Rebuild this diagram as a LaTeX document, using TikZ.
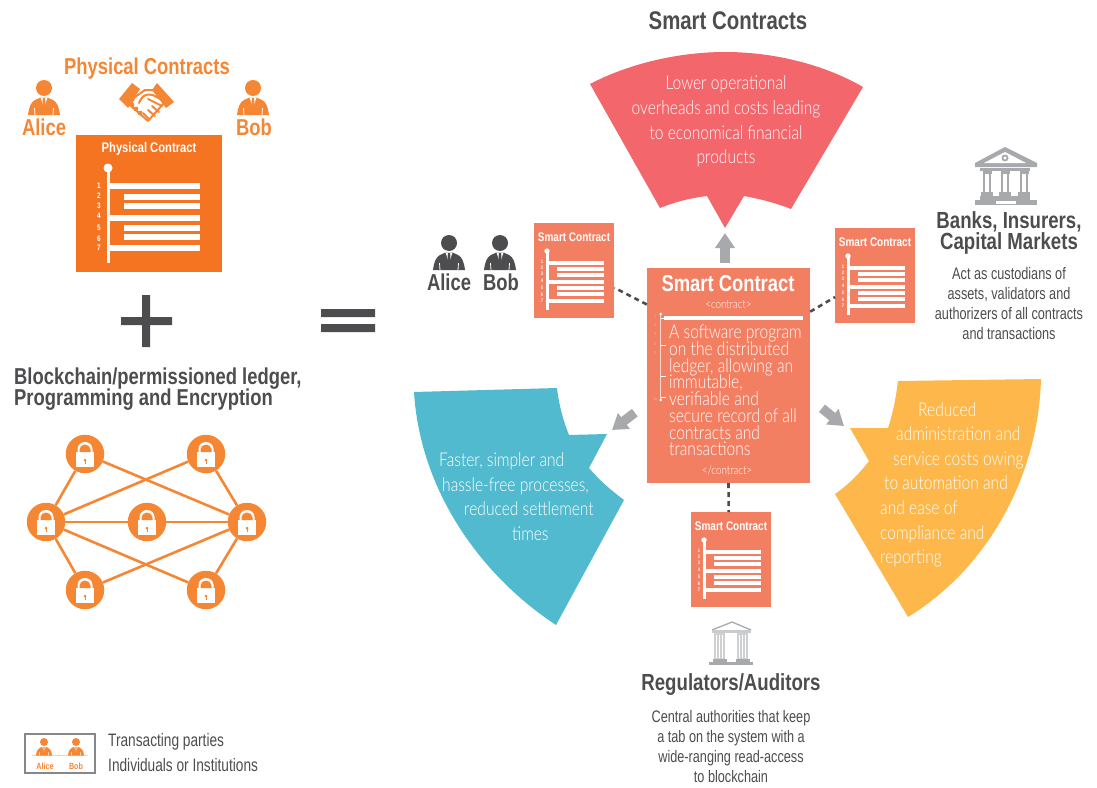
\documentclass[tikz,border=0pt]{standalone}
\usepackage{fontspec}
\usetikzlibrary{arrows.meta}
\setmainfont{Liberation Sans}
\newfontfamily\hvb[FakeStretch=0.8]{Liberation Sans Bold}
\newfontfamily\hvl[FakeStretch=0.82]{Lato Light}
\newfontfamily\hvr[FakeStretch=0.76]{Liberation Sans}
\definecolor{orgA}{HTML}{F47421}
\definecolor{orgB}{HTML}{F58634}
\definecolor{salm}{HTML}{F37F62}
\definecolor{redS}{HTML}{F2666C}
\definecolor{teal}{HTML}{52BACE}
\definecolor{yelw}{HTML}{FDB74A}
\definecolor{dark}{HTML}{4D4D4F}
\definecolor{gryA}{HTML}{A7A9AC}
\newcommand{\fsz}[1]{\fontsize{#1}{#1}\selectfont}
\newcommand{\fszb}[2]{\fontsize{#1}{#2}\selectfont}
\newcommand{\tightbody}{\hvl\fszb{19}{16.7}\setlength{\lineskiplimit}{-20pt}\relax}
\tikzset{
  docbox/.style={fill=salm,minimum width=80pt,minimum height=95pt,inner sep=0pt,anchor=north west},
  dashc/.style={draw=dark,line width=2.6pt,dash pattern=on 5pt off 4pt},
  blockarr/.style={draw=gryA,line width=9.5pt,-{Triangle[length=15pt,width=19pt]}},
  netline/.style={draw=orgB,line width=2.6pt},
  lockc/.style={circle,fill=orgB,minimum size=38.5pt,inner sep=0pt},
  band/.style={font=\hvl\fszb{19}{24.6},text=white,inner sep=0pt,align=left},
  headb/.style={font=\hvb\fsz{23.3},inner sep=0pt},
  desc/.style={font=\hvr\fszb{16.7}{20},text=dark,inner sep=0pt,align=center},
  doctitle/.style={font=\hvb\fsz{12.5},text=white,inner sep=0pt},
  lockp/.pic={
    \fill[white] (-9,-2) rectangle (9,13);
    \fill[white] (-7.5,-2) -- (-7.5,-5) arc[start angle=180,end angle=360,x radius=7.5,y radius=7] -- (7.5,-2) -- cycle;
    \fill[orgB] (-5.5,-2) -- (-5.5,-4.5) arc[start angle=180,end angle=360,x radius=5.5,y radius=5] -- (5.5,-2) -- cycle;
    \fill[orgB] (0,6) circle (1.5);
    \draw[orgB,line width=.8pt] (0,6) -- (0,10);
  }
}
% person: x, y of head centre, scale, colour
\newcommand{\personicon}[4]{%
  \begin{scope}[shift={(#1,#2)},scale=#3]
    \fill[#4] (0,0) circle (8);
    \fill[#4] (-16,27) .. controls (-15,19) and (-13,14) .. (-9,12) -- (-3.5,9.5) -- (3.5,9.5) -- (9,12) .. controls (13,14) and (15,19) .. (16,27) -- cycle;
    \fill[white] (-3.5,9.5) -- (3.5,9.5) -- (0,20) -- cycle;
    \fill[#4] (-1.2,10) -- (1.2,10) -- (1.4,18) -- (0,21) -- (-1.4,18) -- cycle;
    \draw[white,line width=#3*.8pt] (-9.5,20) -- (-9,27) (9.5,20) -- (9,27);
  \end{scope}}
% lines of a small contract: node name
\newcommand{\doclines}[3]{%
  \begin{scope}[shift={(#1,#2)}]
    \node[doctitle] at (40,14) {#3};
    \fill[white] (13,28) circle (2.7);
    \fill[white] (11.5,28) rectangle (14.5,87);
    \foreach \yy in {40,59,78} \fill[white] (13,\yy-2) rectangle (70,\yy+2);
    \foreach \yy in {46,52,65,71} \fill[white] (23,\yy-2) rectangle (70,\yy+2);
    \foreach \nn/\yy in {1/39,2/45,3/51,4/58,5/65,6/72,7/78}
      \node[font=\hvb\fsz{5},text=white,inner sep=0pt] at (8,\yy) {\nn};
  \end{scope}}
\begin{document}
\begin{tikzpicture}[x=1pt,y=-1pt]
\useasboundingbox (0,0) rectangle (1097,787);

% ---------- left panel
\node[font=\hvb\fsz{23},text=orgB,inner sep=0pt] (phtitle) at (147,69) {Physical Contracts};
\personicon{44}{88}{1}{orgB}
\personicon{253}{88}{1}{orgB}
\node[font=\hvb\fsz{23},text=orgB,inner sep=0pt] (lalice) at (44,127) {Alice};
\node[font=\hvb\fsz{23},text=orgB,inner sep=0pt] (lbob) at (254,127) {Bob};
% handshake
\filldraw[fill=white,draw=orgB,line width=2pt,line join=round] (135,97) -- (145,90) -- (155,90) -- (164,103) -- (148,121) -- (130,105) -- cycle;
\fill[orgB] (119,99) -- (132,83) -- (140,89) -- (128,108) -- cycle;
\fill[orgB] (157,83) -- (174,102) -- (166,108) -- (152,90) -- cycle;
\draw[orgB,line width=2pt,line cap=round,line join=round] (139,103) .. controls (143,93) and (150,92) .. (160,99) (148,99) -- (162,106) (152,106) -- (159,112) (148,110) -- (155,116) (143,113) -- (149,119);
\fill[orgB] (132,105) circle (2.4) (136,109) circle (2.4) (140,113) circle (2.4);
% physical contract
\node[fill=orgA,minimum width=146pt,minimum height=137pt,inner sep=0pt] (phys) at (149,203.5) {};
\node[font=\hvb\fsz{14},text=white,inner sep=0pt] (physt) at (149,149) {Physical Contract};
\fill[white] (108,168) circle (4.5);
\fill[white] (106.5,168) rectangle (109.5,263);
\foreach \yy in {186,218,248} \fill[white] (108,\yy-3) rectangle (200,\yy+3);
\foreach \yy in {197,206,228,237} \fill[white] (124,\yy-3) rectangle (200,\yy+3);
\foreach \nn/\yy in {1/186,2/196,3/206,4/216,5/228,6/239,7/248}
  \node[font=\hvb\fsz{8},text=white,inner sep=0pt] at (99,\yy) {\nn};
% plus, equals
\fill[dark] (121,317) rectangle (172,325) (142,295) rectangle (150,347);
\fill[dark] (321,309) rectangle (375,317) (321,324) rectangle (375,332);
\node[font=\hvb\fsz{23},text=dark,inner sep=0pt,anchor=west] (bc1) at (14,379) {Blockchain/permissioned ledger,};
\node[font=\hvb\fsz{23},text=dark,inner sep=0pt,anchor=west] (bc2) at (14,400) {Programming and Encryption};
% network
\node[lockc] (tl) at (85,454) {};
\node[lockc] (tr) at (206,454) {};
\node[lockc] (ml) at (46,522) {};
\node[lockc] (mc) at (147,522) {};
\node[lockc] (mr) at (247,522) {};
\node[lockc] (bl) at (85,590) {};
\node[lockc] (br) at (206,590) {};
\foreach \a/\b in {tl/ml,tr/mr,ml/bl,mr/br,ml/mc,mc/mr,ml/tr,tl/mr,ml/br,bl/mr}
  \draw[netline] (\a) -- (\b);
\foreach \n in {tl,tr,ml,mc,mr,bl,br} \pic at (\n) {lockp};
% legend
\node[draw=gryA!80!black,line width=1.1pt,minimum width=70pt,minimum height=39pt,inner sep=0pt] (legend) at (60,753.5) {};
\draw[orgB!40,line width=.5pt] (32,755) -- (88,755);
\personicon{44}{742}{.5}{orgB}
\personicon{76}{742}{.5}{orgB}
\node[font=\hvb\fsz{9},text=orgB,inner sep=0pt] (lga) at (45,766) {Alice};
\node[font=\hvb\fsz{9},text=orgB,inner sep=0pt] (lgb) at (76,766) {Bob};
\node[font=\hvr\fsz{18},text=dark,inner sep=0pt,anchor=west] (lg1) at (108,742) {Transacting parties};
\node[font=\hvr\fsz{18},text=dark,inner sep=0pt,anchor=west] (lg2) at (108,765) {Individuals or Institutions};

% ---------- right panel
\node[font=\hvb\fsz{25.5},text=dark,inner sep=0pt] (sctitle) at (728,21) {Smart Contracts};
\fill[redS] (590,84) .. controls (630,63) and (680,52) .. (725,52) .. controls (775,52) and (825,65) .. (863,87) -- (791,209) .. controls (776,203) and (760,199) .. (744,196) -- (725,228) -- (707,196) .. controls (690,198) and (675,202) .. (660,208) -- cycle;
\coordinate (redtip) at (725,228);
\node[band,align=center] (redt) at (726,121.5) {Lower operational\\overheads and costs leading\\to economical financial\\products};
\fill[teal] (414,392) -- (557,388) .. controls (559,405) and (563,420) .. (569,435) -- (607,434) -- (589,468) .. controls (600,481) and (612,491) .. (624,500) -- (556,625) .. controls (480,575) and (420,490) .. (414,392) -- cycle;
\coordinate (tealtip) at (612,430);
\node[band,anchor=north west] (tealt) at (439,452.5) {Faster, simpler and\\\hspace*{3pt}hassle-free processes,\\\hspace*{25pt}reduced settlement\\\hspace*{73pt}times};
\fill[yelw] (898,381) -- (1041,379) .. controls (1038,480) and (985,570) .. (908,617) -- (835,494) .. controls (848,485) and (860,473) .. (869,461) -- (850,428) -- (888,428) .. controls (893,413) and (896,397) .. (898,381) -- cycle;
\coordinate (yelwtip) at (844,426);
\node[band,anchor=north west] (yelwt) at (880,402) {\hspace*{38pt}Reduced\\\hspace*{16pt}administration and\\\hspace*{13pt}service costs owing\\\hspace*{4pt}to automation and\\and ease of\\compliance and\\reporting};
% main contract
\node[fill=salm,minimum width=163pt,minimum height=215pt,inner sep=0pt] (main) at (728.5,375.5) {};
\node[font=\hvb\fsz{23},text=white,inner sep=0pt] (maint) at (728,284) {Smart Contract};
\node[font=\hvl\fsz{12},text=white,inner sep=0pt] (cto) at (728.5,305) {<contract>};
\fill[white] (664,316.2) rectangle (803,319.8);
\draw[white!70!salm,line width=.7pt] (660.7,314) -- (660.7,400);
\fill[white] (660.7,314) circle (1.3) (660.7,400) circle (1.3);
\draw[white,line width=.8pt] (660.7,318) -- (665,318) (660.7,345) -- (666,345) (660.7,376) -- (666,376) (660.7,397) -- (666,397);
\foreach \nn/\yy in {1/316,2/325,3/334,4/344,5/353,./363,./373,./382,10/399}
  \node[font=\hvl\fsz{4},text=white!70!salm,inner sep=0pt] at (655,\yy) {\nn};
\node[font=\tightbody,text=white,inner sep=0pt,align=left,anchor=north west] (maind) at (669,325) {A software program\\on the distributed\\ledger, allowing an\\immutable,\\verifiable and\\secure record of all\\contracts and\\transactions};
\node[font=\hvl\fsz{12},text=white,inner sep=0pt] (ctc) at (727,470) {</contract>};
% small contracts
\node[docbox] (ldoc) at (534,223) {};
\doclines{534}{223}{Smart Contract}
\node[docbox] (rdoc) at (835,228) {};
\doclines{835}{228}{Smart Contract}
\node[docbox] (bdoc) at (691,512) {};
\doclines{691}{512}{Smart Contract}
% connectors
\draw[dashc] (main.139) -- (ldoc.-23.6);
\draw[dashc] (main.38.4) -- (rdoc.208);
\draw[dashc] (main.south) -- (bdoc.93);
\draw[blockarr,shorten <=5pt,shorten >=5pt] (main.north -| redtip) -- (redtip);
\draw[blockarr,shorten <=15pt] (main.199.3) -- (tealtip);
\draw[blockarr,shorten <=15pt] (main.-16.7) -- (yelwtip);
% parties
\personicon{449}{243}{1}{dark}
\personicon{500}{243}{1}{dark}
\node[font=\hvb\fsz{23},text=dark,inner sep=0pt] (ralice) at (449,282) {Alice};
\node[font=\hvb\fsz{23},text=dark,inner sep=0pt] (rbob) at (501,282) {Bob};
% banks
\fill[gryA] (1005,147) -- (1037,163) -- (1037,167) -- (975,167) -- (975,163) -- cycle;
\fill[white] (1005,152) -- (1026,163) -- (984,163) -- cycle;
\fill[gryA] (1005,158) circle (3.5);
\fill[white] (1005,158) circle (1.6);
\fill[gryA] (980,168) rectangle (1030,171);
\foreach \xx in {987,1005,1024} {
  \fill[gryA] (\xx-4.5,171) rectangle (\xx+4.5,174);
  \fill[gryA] (\xx-4,174) rectangle (\xx+4,192);
  \fill[white] (\xx-2,174) rectangle (\xx+2,192);
  \fill[gryA] (\xx-6,192) rectangle (\xx+6,196);
}
\fill[gryA] (980,196) rectangle (1030,201);
\fill[gryA] (975,200) rectangle (1037,205);
\fill[white] (996,201) rectangle (1016,204);
\node[headb,text=dark] (bk1) at (1009,222) {Banks, Insurers,};
\node[headb,text=dark] (bk2) at (1009,243) {Capital Markets};
\node[desc] (bkd) at (1009,304) {Act as custodians of\\assets, validators and\\authorizers of all contracts\\and transactions};
% regulators
\draw[gryA,line width=1.3pt] (712,630) -- (732,622) -- (751,630);
\fill[gryA!60] (712,630) rectangle (751,632.5);
\foreach \xx in {719.5,742.5} {
  \fill[gryA!55] (\xx-5.5,633) rectangle (\xx+5.5,659);
  \foreach \dd in {-3,0,3} \draw[white,line width=.6pt] (\xx+\dd,635) -- (\xx+\dd,658);
  \fill[gryA] (\xx-7,659) rectangle (\xx+7,662);
}
\fill[gryA] (709,662) rectangle (753,664.5);
\node[headb,text=dark] (rg) at (731,685) {Regulators/Auditors};
\node[desc] (rgd) at (731,746.5) {Central authorities that keep\\a tab on the system with a\\wide-ranging read-access\\to blockchain};
\end{tikzpicture}
\end{document}
